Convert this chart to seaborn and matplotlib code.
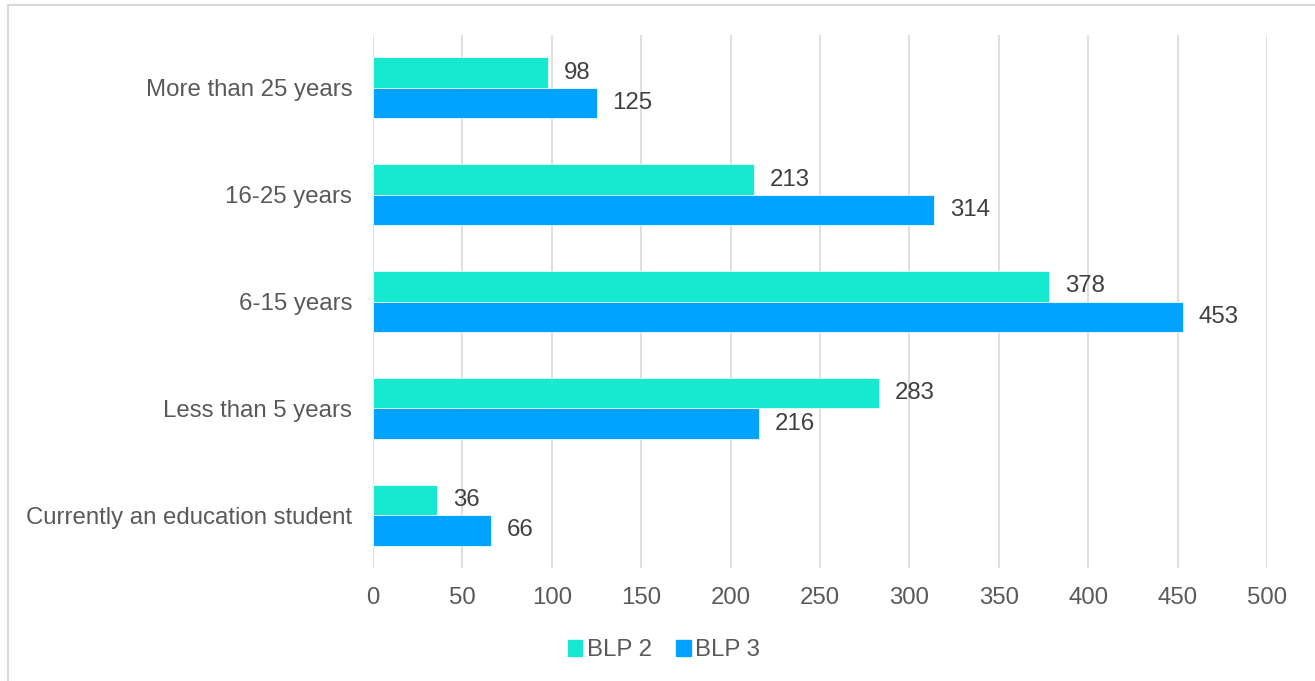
import matplotlib
matplotlib.use("Agg")
import matplotlib.pyplot as plt
import seaborn as sns
import pandas as pd
from matplotlib.patches import Rectangle

categories = ["More than 25 years", "16-25 years", "6-15 years",
              "Less than 5 years", "Currently an education student"]
blp2 = [98, 213, 378, 283, 36]
blp3 = [125, 314, 453, 216, 66]
series = ["BLP 2", "BLP 3"]
colors = ["#17E8D0", "#00A3FF"]

df = pd.DataFrame({
    "category": categories * 2,
    "value": blp2 + blp3,
    "series": [series[0]] * len(categories) + [series[1]] * len(categories),
})

sns.set_theme(style="white")
plt.rcParams["font.family"] = ["Liberation Sans", "DejaVu Sans"]

fig = plt.figure(figsize=(13.15, 6.81), dpi=100)
ax = fig.add_axes([0.2837, 0.1652, 0.9635 - 0.2837, 0.9493 - 0.1652])

sns.barplot(data=df, y="category", x="value", hue="series", order=categories,
            hue_order=series, palette=colors, orient="h", width=0.57,
            saturation=1, linewidth=0.5, edgecolor="white", ax=ax, legend=False)

for c in ax.containers:
    ax.bar_label(c, padding=11.5, fontsize=17.3, color="#404040")

ax.set_xlim(0, 500)
ax.set_xticks(range(0, 501, 50))
ax.xaxis.grid(True, color="#D9D9D9", linewidth=1.2)
ax.set_axisbelow(True)
for s in ax.spines.values():
    s.set_visible(False)
ax.tick_params(axis="both", length=0, labelsize=17.3, labelcolor="#595959")
ax.tick_params(axis="y", pad=15)
ax.tick_params(axis="x", pad=13)
ax.set_xlabel("")
ax.set_ylabel("")

handles = [Rectangle((0, 0), 1, 1, color=c) for c in colors]
fig.legend(handles, series, loc="center", bbox_to_anchor=(0.505, 0.045), ncol=2,
           frameon=False, fontsize=17.3, handlelength=0.6, handleheight=0.6,
           handletextpad=0.2, columnspacing=1.0, labelcolor="#595959")

fig.patches.append(Rectangle((8 / 1315, -0.1), 1.1, 1.1 - 5 / 681,
                             transform=fig.transFigure, fill=False,
                             edgecolor="#D9D9D9", linewidth=1.5))

fig.savefig("out.png", dpi=100)
